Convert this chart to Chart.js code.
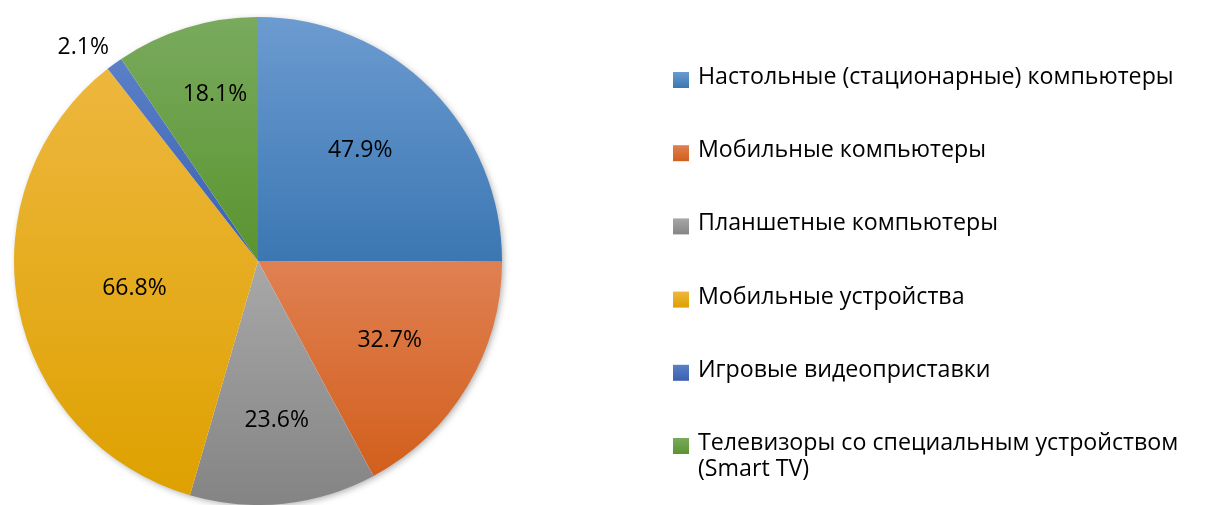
<!DOCTYPE html>
<html><head><meta charset="utf-8">
<script src="https://cdn.jsdelivr.net/npm/chart.js@4/dist/chart.umd.min.js"></script>
<style>html,body{margin:0;padding:0;background:#fff;} canvas{display:block}</style>
</head><body>
<canvas id="c" width="1229" height="505"></canvas>
<script>
const categories = [
  'Настольные (стационарные) компьютеры',
  'Мобильные компьютеры',
  'Планшетные компьютеры',
  'Мобильные устройства',
  'Игровые видеоприставки',
  'Телевизоры со специальным устройством (Smart TV)'
];
const values = [47.9, 32.7, 23.6, 66.8, 2.1, 18.1];
const colorsTop = ['#6c9bd0', '#e08052', '#a8a8a8', '#edb73e', '#5b80c8', '#79aa5e'];
const colorsBottom = ['#3b77b3', '#d25f1c', '#848484', '#dea100', '#3960b0', '#5a942f'];

const FONT = '"Open Sans", "DejaVu Sans", sans-serif';

function sliceBox(chart, i) {
  const ca = chart.chartArea;
  const cx = (ca.left + ca.right) / 2, cy = (ca.top + ca.bottom) / 2;
  const r = Math.min(ca.right - ca.left, ca.bottom - ca.top) / 2;
  const total = values.reduce((a, b) => a + b, 0);
  let before = 0;
  for (let k = 0; k < i; k++) before += values[k];
  const a0 = -Math.PI / 2 + before / total * 2 * Math.PI;
  const a1 = a0 + values[i] / total * 2 * Math.PI;
  const ys = [cy, cy + r * Math.sin(a0), cy + r * Math.sin(a1)];
  for (const t of [-Math.PI / 2, Math.PI / 2, 3 * Math.PI / 2]) {
    if (t >= a0 && t <= a1) ys.push(cy + r * Math.sin(t));
  }
  return [Math.min(...ys), Math.max(...ys)];
}

function sliceFill(context) {
  const chart = context.chart;
  const i = context.dataIndex;
  if (!chart.chartArea) return colorsBottom[i];
  const [y0, y1] = sliceBox(chart, i);
  const g = chart.ctx.createLinearGradient(0, y0, 0, y1);
  g.addColorStop(0, colorsTop[i]);
  g.addColorStop(1, colorsBottom[i]);
  return g;
}

const shadowPlugin = {
  id: 'pieShadow',
  beforeDatasetsDraw(chart) {
    const arc = chart.getDatasetMeta(0).data[0];
    if (!arc) return;
    const ctx = chart.ctx;
    ctx.save();
    ctx.shadowColor = 'rgba(0,0,0,0.35)';
    ctx.shadowBlur = 7;
    ctx.shadowOffsetX = 2;
    ctx.shadowOffsetY = 2;
    ctx.fillStyle = '#ffffff';
    ctx.beginPath();
    ctx.arc(arc.x, arc.y, arc.outerRadius - 1, 0, Math.PI * 2);
    ctx.fill();
    ctx.restore();
  }
};

const labelPlugin = {
  id: 'sliceLabels',
  afterDatasetsDraw(chart, args, opts) {
    const ctx = chart.ctx;
    const meta = chart.getDatasetMeta(0);
    ctx.save();
    ctx.font = opts.size + 'px ' + FONT;
    ctx.fillStyle = '#000';
    ctx.textAlign = 'center';
    ctx.textBaseline = 'middle';
    meta.data.forEach((arc, i) => {
      const mid = (arc.startAngle + arc.endAngle) / 2;
      const d = opts.radius[i] * arc.outerRadius;
      const x = arc.x + Math.cos(mid) * d + (opts.dx[i] || 0);
      const y = arc.y + Math.sin(mid) * d + (opts.dy[i] || 0);
      ctx.fillText(values[i].toFixed(1) + '%', x, y);
    });
    ctx.restore();
  }
};

const legendPlugin = {
  id: 'sideLegend',
  afterDraw(chart, args, opts) {
    const ctx = chart.ctx;
    ctx.save();
    ctx.font = opts.size + 'px ' + FONT;
    ctx.textBaseline = 'alphabetic';
    ctx.textAlign = 'left';
    categories.forEach((label, i) => {
      const base = opts.top + i * opts.spacing;
      const by = base - opts.box + opts.boxDrop;
      const g = ctx.createLinearGradient(0, by, 0, by + opts.box);
      g.addColorStop(0, colorsTop[i]);
      g.addColorStop(1, colorsBottom[i]);
      ctx.fillStyle = g;
      ctx.fillRect(opts.x, by, opts.box, opts.box);
      ctx.fillStyle = '#000';
      const words = label.split(' ');
      const lines = [];
      let cur = '';
      words.forEach(w => {
        const test = cur ? cur + ' ' + w : w;
        if (ctx.measureText(test).width > opts.maxWidth && cur) { lines.push(cur); cur = w; }
        else cur = test;
      });
      if (cur) lines.push(cur);
      lines.forEach((ln, k) => ctx.fillText(ln, opts.textX, base + k * opts.lineHeight));
    });
    ctx.restore();
  }
};

new Chart(document.getElementById('c'), {
  type: 'pie',
  data: {
    labels: categories,
    datasets: [{
      data: values,
      backgroundColor: sliceFill,
      borderWidth: 0,
      hoverOffset: 0
    }]
  },
  options: {
    responsive: false,
    animation: false,
    events: [],
    layout: { padding: { left: 14, top: 17, right: 727, bottom: 0 } },
    plugins: {
      legend: { display: false },
      tooltip: { enabled: false },
      title: { display: false },
      sliceLabels: {
        size: 23,
        radius: [0.62, 0.62, 0.65, 0.52, 1.14, 0.7],
        dx: [-5, 2, 2, 1, -11, 7],
        dy: [-4, 2, 2, 3, 11, -3]
      },
      sideLegend: { size: 23.2, x: 673, textX: 698, top: 84, spacing: 73.2, box: 16, boxDrop: 4, lineHeight: 26, maxWidth: 530 }
    }
  },
  plugins: [shadowPlugin, labelPlugin, legendPlugin]
});
</script>
</body></html>
